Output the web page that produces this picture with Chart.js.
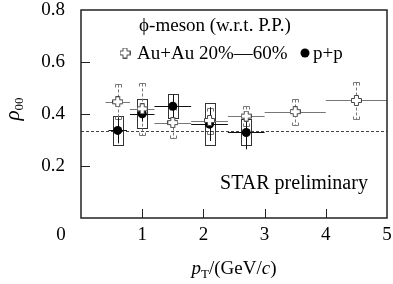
<!DOCTYPE html>
<html>
<head>
<meta charset="utf-8">
<script src="https://cdn.jsdelivr.net/npm/chart.js@4.4.1/dist/chart.umd.min.js"></script>
<style>
  html, body { margin: 0; padding: 0; background: #fff; }
</style>
</head>
<body>
<canvas id="chart" width="393" height="284"></canvas>
<script>
// Au+Au 20-60% (open crosses)
const aaPt    = [0.6, 1.0, 1.5, 2.1, 2.7, 3.5, 4.5];
const aaBinLo = [0.4, 0.8, 1.2, 1.8, 2.4, 3.0, 4.0];
const aaBinHi = [0.8, 1.2, 1.8, 2.4, 3.0, 4.0, 5.0];
const aaRho   = [0.447, 0.42, 0.367, 0.375, 0.392, 0.409, 0.452];
const aaSys   = [0.067, 0.10, 0.06, 0.05, 0.04, 0.05, 0.07];

// p+p (filled circles)
const ppPt    = [0.6, 1.0, 1.5, 2.1, 2.7];
const ppBinLo = [0.45, 0.8, 1.2, 1.8, 2.4];
const ppBinHi = [0.75, 1.2, 1.8, 2.4, 3.0];
const ppRho   = [0.337, 0.401, 0.430, 0.361, 0.329];
const ppStat  = [0.05, 0.03, 0.045, 0.065, 0.065];
const ppSys   = [0.055, 0.055, 0.046, 0.08, 0.05];

const xTicks = [1, 2, 3, 4, 5];
const yTicks = [0.2, 0.4, 0.6, 0.8];
const rhoRef = 1 / 3;

const SERIF = '"Liberation Serif", "Times New Roman", serif';

// open cross marker
function makeCross(size, color) {
  const c = document.createElement('canvas');
  c.width = size; c.height = size;
  const g = c.getContext('2d');
  const m = size / 2, o = size / 2 - 0.5, a = 2;
  g.beginPath();
  g.moveTo(m - a, m - o); g.lineTo(m + a, m - o); g.lineTo(m + a, m - a);
  g.lineTo(m + o, m - a); g.lineTo(m + o, m + a); g.lineTo(m + a, m + a);
  g.lineTo(m + a, m + o); g.lineTo(m - a, m + o); g.lineTo(m - a, m + a);
  g.lineTo(m - o, m + a); g.lineTo(m - o, m - a); g.lineTo(m - a, m - a);
  g.closePath();
  g.fillStyle = '#fff'; g.fill();
  g.strokeStyle = color; g.lineWidth = 1; g.stroke();
  return c;
}
const crossImg = makeCross(11, '#444');

const errorBars = {
  id: 'errorBars',
  beforeDatasetsDraw(chart) {
    const { ctx, chartArea: ca, scales: { x, y } } = chart;
    ctx.save();
    // reference line at 1/3
    ctx.strokeStyle = '#444'; ctx.lineWidth = 1; ctx.setLineDash([3, 2]);
    ctx.beginPath();
    const yr = Math.round(y.getPixelForValue(rhoRef)) + 0.5;
    ctx.moveTo(ca.left, yr); ctx.lineTo(ca.right, yr); ctx.stroke();
    ctx.setLineDash([]);

    // p+p systematic boxes
    ctx.strokeStyle = '#333'; ctx.lineWidth = 1;
    ppPt.forEach((p, i) => {
      const px = Math.round(x.getPixelForValue(p));
      const t = Math.round(y.getPixelForValue(ppRho[i] + ppSys[i]));
      const b = Math.round(y.getPixelForValue(ppRho[i] - ppSys[i]));
      ctx.strokeRect(px - 5 + 0.5, t + 0.5, 10, b - t);
    });

    // Au+Au bins and systematic brackets
    ctx.strokeStyle = '#777';
    aaPt.forEach((p, i) => {
      const px = Math.round(x.getPixelForValue(p)) + 0.5;
      const py = Math.round(y.getPixelForValue(aaRho[i])) + 0.5;
      ctx.beginPath();
      ctx.moveTo(x.getPixelForValue(aaBinLo[i]), py);
      ctx.lineTo(x.getPixelForValue(aaBinHi[i]), py);
      ctx.stroke();
      const t = Math.round(y.getPixelForValue(aaRho[i] + aaSys[i])) + 0.5;
      const b = Math.round(y.getPixelForValue(aaRho[i] - aaSys[i])) + 0.5;
      ctx.setLineDash([3, 2]);
      ctx.beginPath();
      ctx.moveTo(px, t); ctx.lineTo(px, b); ctx.stroke();
      ctx.setLineDash([]);
      ctx.beginPath();
      ctx.moveTo(px - 3, t + 3); ctx.lineTo(px - 3, t); ctx.lineTo(px + 3, t); ctx.lineTo(px + 3, t + 3);
      ctx.moveTo(px - 3, b - 3); ctx.lineTo(px - 3, b); ctx.lineTo(px + 3, b); ctx.lineTo(px + 3, b - 3);
      ctx.stroke();
    });

    // p+p bins and statistical errors
    ctx.strokeStyle = '#111';
    ppPt.forEach((p, i) => {
      const px = Math.round(x.getPixelForValue(p)) + 0.5;
      const py = Math.round(y.getPixelForValue(ppRho[i])) + 0.5;
      ctx.beginPath();
      ctx.moveTo(x.getPixelForValue(ppBinLo[i]), py);
      ctx.lineTo(x.getPixelForValue(ppBinHi[i]), py);
      ctx.moveTo(px, y.getPixelForValue(ppRho[i] + ppStat[i]));
      ctx.lineTo(px, y.getPixelForValue(ppRho[i] - ppStat[i]));
      ctx.stroke();
    });
    ctx.restore();
  },
  afterDraw(chart) {
    const { ctx, chartArea: ca, scales: { x, y } } = chart;
    ctx.save();
    // frame and inward ticks
    ctx.strokeStyle = '#222'; ctx.lineWidth = 1.5;
    ctx.strokeRect(ca.left, ca.top, ca.right - ca.left, ca.bottom - ca.top);
    ctx.lineWidth = 1;
    ctx.beginPath();
    xTicks.slice(0, -1).forEach(v => {
      const px = Math.round(x.getPixelForValue(v)) + 0.5;
      ctx.moveTo(px, ca.bottom); ctx.lineTo(px, ca.bottom - 9);
    });
    yTicks.slice(0, -1).forEach(v => {
      const py = Math.round(y.getPixelForValue(v)) + 0.5;
      ctx.moveTo(ca.left, py); ctx.lineTo(ca.left + 9, py);
    });
    ctx.stroke();

    ctx.fillStyle = '#000';
    ctx.textBaseline = 'alphabetic';
    // shared origin label
    ctx.font = '19px ' + SERIF;
    ctx.textAlign = 'center';
    ctx.fillText('0', 61, 240);

    // x title: pT/(GeV/c)
    const parts = [
      ['italic 19px ' + SERIF, 'p', 0],
      ['13px ' + SERIF, 'T', 4],
      ['19px ' + SERIF, '/(GeV/', 0],
      ['italic 19px ' + SERIF, 'c', 0],
      ['19px ' + SERIF, ')', 0]
    ];
    let w = 0;
    parts.forEach(p => { ctx.font = p[0]; w += ctx.measureText(p[1]).width; });
    let cx = (ca.left + ca.right) / 2 - w / 2;
    ctx.textAlign = 'left';
    parts.forEach(p => {
      ctx.font = p[0];
      ctx.fillText(p[1], cx, 274 + p[2]);
      cx += ctx.measureText(p[1]).width;
    });

    // y title: rho_00
    ctx.save();
    ctx.translate(19, 109);
    ctx.rotate(-Math.PI / 2);
    ctx.font = 'italic 21px ' + SERIF;
    const rw = ctx.measureText('\u03C1').width;
    ctx.font = '13px ' + SERIF;
    const sw = ctx.measureText('00').width;
    let sx = -(rw + sw) / 2;
    ctx.font = 'italic 21px ' + SERIF;
    ctx.fillText('\u03C1', sx, 0);
    ctx.font = '13px ' + SERIF;
    ctx.fillText('00', sx + rw, 4);
    ctx.restore();

    // legend
    ctx.font = '19px ' + SERIF;
    ctx.textAlign = 'center';
    ctx.fillText('\u03D5-meson (w.r.t. P.P.)', 215, 31);
    ctx.drawImage(crossImg, 125 - 5.5, 53 - 5.5);
    ctx.textAlign = 'left';
    ctx.fillText('Au+Au 20%\u201460%', 137, 59);
    ctx.beginPath();
    ctx.arc(305, 53, 4.5, 0, Math.PI * 2);
    ctx.fill();
    ctx.fillText('p+p', 313, 59);

    ctx.font = '20px ' + SERIF;
    ctx.textAlign = 'center';
    ctx.fillText('STAR preliminary', 294, 189);
    ctx.restore();
  }
};

new Chart(document.getElementById('chart'), {
  type: 'scatter',
  data: {
    datasets: [
      {
        label: 'Au+Au 20%\u201460%',
        data: aaPt.map((p, i) => ({ x: p, y: aaRho[i] })),
        pointStyle: crossImg,
        pointRadius: 5
      },
      {
        label: 'p+p',
        data: ppPt.map((p, i) => ({ x: p, y: ppRho[i] })),
        pointStyle: 'circle',
        pointRadius: 4.5,
        backgroundColor: '#000',
        borderColor: '#000',
        borderWidth: 0
      }
    ]
  },
  plugins: [errorBars],
  options: {
    responsive: false,
    animation: false,
    layout: { padding: { top: 10, right: 3, left: 0, bottom: 0 } },
    plugins: { legend: { display: false }, tooltip: { enabled: false } },
    scales: {
      x: {
        type: 'linear', min: 0, max: 5,
        grid: { display: false, drawTicks: false },
        border: { display: false },
        ticks: {
          stepSize: 1, maxRotation: 0, padding: 6, color: '#000',
          font: { family: SERIF, size: 19 },
          callback: v => (xTicks.includes(v) ? String(v) : '')
        },
        afterFit(s) { s.height = 66; s.paddingLeft = 0; s.paddingRight = 0; }
      },
      y: {
        min: 0, max: 0.8,
        grid: { display: false, drawTicks: false },
        border: { display: false },
        ticks: {
          stepSize: 0.2, padding: 16, color: '#000',
          font: { family: SERIF, size: 19 },
          callback: v => (yTicks.some(t => Math.abs(t - v) < 1e-9) ? v.toFixed(1) : '')
        },
        afterFit(s) { s.width = 81; s.paddingTop = 0; s.paddingBottom = 0; }
      }
    }
  }
});
</script>
</body>
</html>
